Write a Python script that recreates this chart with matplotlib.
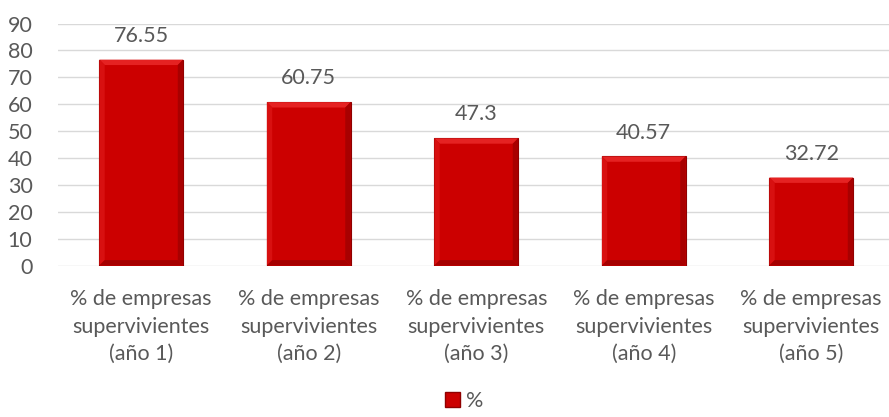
import matplotlib
matplotlib.use("Agg")
import matplotlib.pyplot as plt
from matplotlib.patches import Patch, Polygon

categories = ["% de empresas\nsupervivientes\n(año 1)",
              "% de empresas\nsupervivientes\n(año 2)",
              "% de empresas\nsupervivientes\n(año 3)",
              "% de empresas\nsupervivientes\n(año 4)",
              "% de empresas\nsupervivientes\n(año 5)"]
values = [76.55, 60.75, 47.3, 40.57, 32.72]
value_labels = ["76.55", "60.75", "47.3", "40.57", "32.72"]
series_name = "%"
yticks = [0, 10, 20, 30, 40, 50, 60, 70, 80, 90]

plt.rcParams['font.family'] = ['Lato', 'DejaVu Sans']
txt = '#595959'
fs = 15.5

fig = plt.figure(figsize=(8.89, 4.17), dpi=100)
W, H = 889, 417
left, right, top, bottom = 57.5, 889, 23.5, 265.5
ax = fig.add_axes([left / W, 1 - bottom / H, (right - left) / W, (bottom - top) / H])
ax.set_axisbelow(True)

x = list(range(len(values)))
bw = 0.5
ax.bar(x, values, width=bw, color='#CC0000', edgecolor='#8f0000', linewidth=0.8, zorder=3)

# bevel effect (light top, darker right/bottom edges)
dx, dy = 0.032, 2.0
for xi, v in zip(x, values):
    x0, x1 = xi - bw / 2, xi + bw / 2
    ax.add_patch(Polygon([(x0, v), (x1, v), (x1 - dx, v - dy), (x0 + dx, v - dy)],
                         closed=True, facecolor='#E52222', edgecolor='none', zorder=4))
    ax.add_patch(Polygon([(x1, v), (x1, 0), (x1 - dx, dy), (x1 - dx, v - dy)],
                         closed=True, facecolor='#A80000', edgecolor='none', zorder=4))
    ax.add_patch(Polygon([(x0, v), (x0, 0), (x0 + dx, dy), (x0 + dx, v - dy)],
                         closed=True, facecolor='#D81010', edgecolor='none', zorder=4))
    ax.add_patch(Polygon([(x0, 0), (x1, 0), (x1 - dx, dy), (x0 + dx, dy)],
                         closed=True, facecolor='#A50000', edgecolor='none', zorder=4))

for xi, v, lab in zip(x, values, value_labels):
    ax.annotate(lab, (xi, v), xytext=(0, 10), textcoords='offset points',
                ha='center', va='bottom', fontsize=fs, color=txt)

ax.set_ylim(0, 90)
ax.set_xlim(-0.5, (right - left) / 167.5 - 0.5)
ax.set_yticks(yticks)
ax.set_xticks(x)
ax.set_xticklabels(categories, fontsize=fs, color=txt, linespacing=1.47)
ax.tick_params(axis='y', labelsize=fs, colors=txt, length=0, pad=18)
ax.tick_params(axis='x', length=0, pad=17)
ax.grid(axis='y', color='#d9d9d9', linewidth=1.0, zorder=0)
for s in ax.spines.values():
    s.set_visible(False)

handle = Patch(facecolor='#CC0000', edgecolor='#8f0000')
fig.legend([handle], [series_name], loc='center', bbox_to_anchor=(464 / W, 1 - 401 / H),
           frameon=False, fontsize=fs, handlelength=0.7, handleheight=0.7,
           handletextpad=0.3, labelcolor=txt)

fig.savefig("out.png", dpi=100)
